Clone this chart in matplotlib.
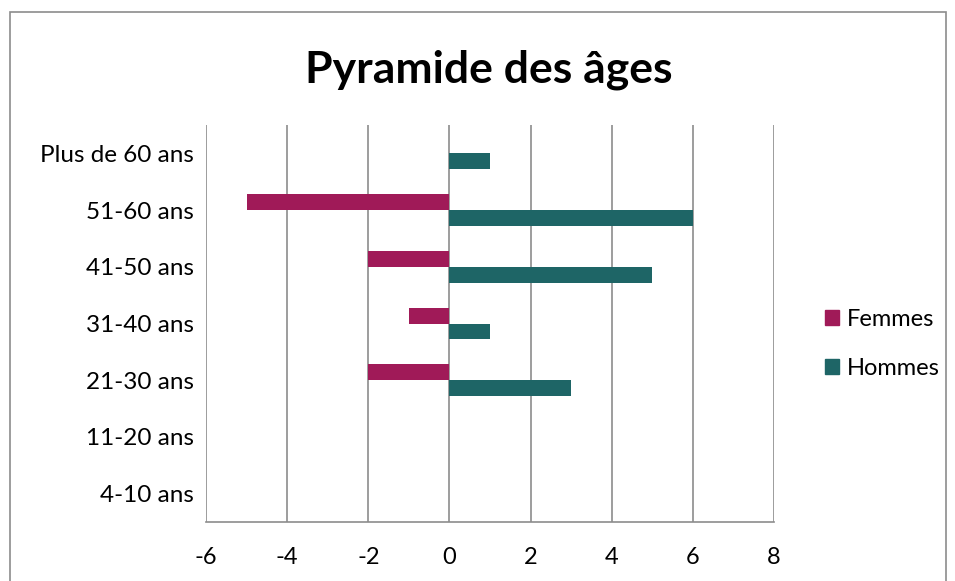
import numpy as np
import matplotlib.pyplot as plt
from matplotlib.patches import Patch, Rectangle

plt.rcParams['font.family'] = ['Lato', 'DejaVu Sans']

# data
categories = ['4-10 ans', '11-20 ans', '21-30 ans', '31-40 ans',
              '41-50 ans', '51-60 ans', 'Plus de 60 ans']
femmes = [0, 0, -2, -1, -2, -5, 0]
hommes = [0, 0, 3, 1, 5, 6, 1]
xticks = [-6, -4, -2, 0, 2, 4, 6, 8]

c_femmes = '#A01A58'
c_hommes = '#1E6566'
grid_c = '#8C8C8C'

fig = plt.figure(figsize=(9.55, 5.81), dpi=100)
ax = fig.add_axes([206/955, 59/581, 568/955, 397/581])

y = np.arange(len(categories))
h = 0.28
ax.barh(y + h/2, femmes, height=h, color=c_femmes, label='Femmes', zorder=3)
ax.barh(y - h/2, hommes, height=h, color=c_hommes, label='Hommes', zorder=3)

ax.set_xlim(-6, 8)
ax.set_ylim(-0.5, len(categories) - 0.5)
ax.set_xticks(xticks)
ax.set_xticklabels([str(v) for v in xticks], fontsize=17)
ax.set_yticks(y)
ax.set_yticklabels(categories, fontsize=17.5)
ax.tick_params(length=0)
ax.tick_params(axis='y', pad=9)
ax.tick_params(axis='x', pad=18)

ax.grid(axis='x', color=grid_c, linewidth=1.2, zorder=0)
for s in ['top', 'right', 'left']:
    ax.spines[s].set_visible(False)
ax.spines['bottom'].set_color(grid_c)
ax.spines['bottom'].set_linewidth(1.2)

fig.text(489/955, 1 - 70/581, 'Pyramide des âges', ha='center', va='center',
         fontsize=32, fontweight='bold')

handles = [Patch(color=c_femmes), Patch(color=c_hommes)]
fig.legend(handles, ['Femmes', 'Hommes'], loc='center left',
           bbox_to_anchor=(804/955, 1 - 344/581), frameon=False, fontsize=17,
           handlelength=0.6, handleheight=0.6, handletextpad=0.3,
           labelspacing=1.2)

fig.patches.append(Rectangle((10/955, -0.01), 936/955, 1 - 12/581 + 0.01,
                             transform=fig.transFigure, fill=False,
                             edgecolor=grid_c, linewidth=1.2))

fig.savefig('out.png', dpi=100)
